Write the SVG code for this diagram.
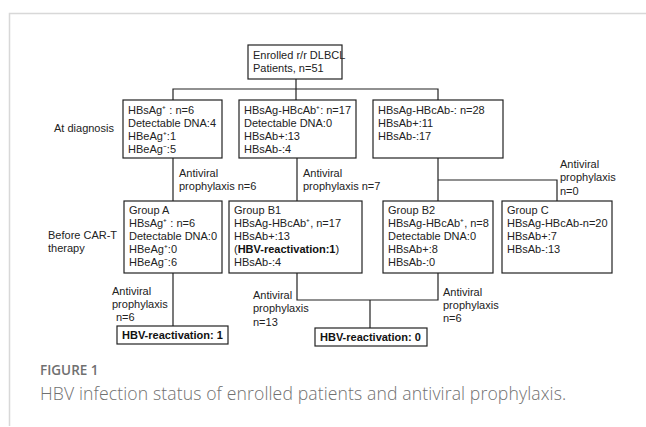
<svg xmlns="http://www.w3.org/2000/svg" width="646" height="427" viewBox="0 0 646 427">
<style>
.bx{fill:#fff;stroke:#222;stroke-width:1.2}
.t{font-family:"Liberation Sans",Arial,sans-serif;font-size:11px;fill:#222}
.b{font-family:"Liberation Sans",Arial,sans-serif;font-size:11px;font-weight:bold;fill:#111}
.ln{fill:none;stroke:#222;stroke-width:1.2}
.cap1{font-family:"Open Sans",sans-serif;font-size:13.5px;font-weight:600;fill:#707070}
.cap2{font-family:"Open Sans",sans-serif;font-size:17.6px;font-weight:300;fill:#707070;letter-spacing:0.12px}
</style>
<rect width="646" height="427" fill="#fff"/>
<path d="M9.5,426 V13.5 H646" fill="none" stroke="#d8d8d8" stroke-width="1.5"/>

<g id="connectors">
<path class="ln" d="M296,79 V100 M173,100 V89 H438 V100"/>
<path class="ln" d="M173,158 V201 M297,158 V201 M438,158 V201 M438,180 H557 V201"/>
<path class="ln" d="M173,273 V326 M297,273 V300 H438 V273 M370,300 V328"/>
</g>

<g id="labels">
<text class="t" x="54" y="132">At diagnosis</text>
<text class="t" x="48" y="239">Before CAR-T</text>
<text class="t" x="48" y="252">therapy</text>
<text class="t" x="179" y="177">Antiviral</text>
<text class="t" x="179" y="190">prophylaxis n=6</text>
<text class="t" x="303" y="177">Antiviral</text>
<text class="t" x="303" y="190">prophylaxis n=7</text>
<text class="t" x="560" y="168">Antiviral</text>
<text class="t" x="560" y="181">prophylaxis</text>
<text class="t" x="560" y="195">n=0</text>
<text class="t" x="112" y="295">Antiviral</text>
<text class="t" x="112" y="308">prophylaxis</text>
<text class="t" x="116" y="321">n=6</text>
<text class="t" x="253" y="299">Antiviral</text>
<text class="t" x="253" y="312">prophylaxis</text>
<text class="t" x="253" y="326">n=13</text>
<text class="t" x="443" y="296">Antiviral</text>
<text class="t" x="443" y="309">prophylaxis</text>
<text class="t" x="443" y="322">n=6</text>
</g>

<g id="enrolled">
<rect class="bx" x="248" y="45" width="94" height="34"/>
<text class="t" x="253" y="59">Enrolled r/r DLBCL</text>
<text class="t" x="253" y="72">Patients, n=51</text>
</g>

<g id="diag-hbsag-pos">
<rect class="bx" x="123" y="100" width="99" height="58"/>
<text class="t" x="128" y="114">HBsAg⁺ : n=6</text>
<text class="t" x="128" y="127">Detectable DNA:4</text>
<text class="t" x="128" y="140">HBeAg⁺:1</text>
<text class="t" x="128" y="153">HBeAg⁻:5</text>
</g>

<g id="diag-hbcab-pos">
<rect class="bx" x="239" y="100" width="117" height="58"/>
<text class="t" x="244" y="114">HBsAg-HBcAb⁺: n=17</text>
<text class="t" x="244" y="127">Detectable DNA:0</text>
<text class="t" x="244" y="140">HBsAb+:13</text>
<text class="t" x="244" y="153">HBsAb-:4</text>
</g>

<g id="diag-hbcab-neg">
<rect class="bx" x="373" y="100" width="130" height="58"/>
<text class="t" x="378" y="114">HBsAg-HBcAb-: n=28</text>
<text class="t" x="378" y="127">HBsAb+:11</text>
<text class="t" x="378" y="140">HBsAb-:17</text>
</g>

<g id="group-a">
<rect class="bx" x="124" y="201" width="98" height="72"/>
<text class="t" x="129" y="214">Group A</text>
<text class="t" x="129" y="227">HBsAg⁺ : n=6</text>
<text class="t" x="129" y="240">Detectable DNA:0</text>
<text class="t" x="129" y="253">HBeAg⁺:0</text>
<text class="t" x="129" y="266">HBeAg⁻:6</text>
</g>

<g id="group-b1">
<rect class="bx" x="229" y="201" width="133" height="72"/>
<text class="t" x="234" y="214">Group B1</text>
<text class="t" x="234" y="227">HBsAg-HBcAb⁺, n=17</text>
<text class="t" x="234" y="240">HBsAb+:13</text>
<text class="t" x="234" y="253">(<tspan class="b">HBV-reactivation:1</tspan>)</text>
<text class="t" x="234" y="266">HBsAb-:4</text>
</g>

<g id="group-b2">
<rect class="bx" x="383" y="201" width="110" height="72"/>
<text class="t" x="388" y="214">Group B2</text>
<text class="t" x="388" y="227">HBsAg-HBcAb⁺, n=8</text>
<text class="t" x="388" y="240">Detectable DNA:0</text>
<text class="t" x="388" y="253">HBsAb+:8</text>
<text class="t" x="388" y="266">HBsAb-:0</text>
</g>

<g id="group-c">
<rect class="bx" x="502" y="201" width="110" height="72"/>
<text class="t" x="507" y="214">Group C</text>
<text class="t" x="507" y="227">HBsAg-HBcAb-n=20</text>
<text class="t" x="507" y="240">HBsAb+:7</text>
<text class="t" x="507" y="253">HBsAb-:13</text>
</g>

<g id="reactivation-1">
<rect class="bx" x="117" y="326" width="111" height="18"/>
<text class="b" x="122" y="339">HBV-reactivation: 1</text>
</g>

<g id="reactivation-0">
<rect class="bx" x="315" y="328" width="112" height="18"/>
<text class="b" x="320" y="341">HBV-reactivation: 0</text>
</g>

<text class="cap1" x="40" y="375">FIGURE 1</text>
<text class="cap2" x="40" y="400">HBV infection status of enrolled patients and antiviral prophylaxis.</text>
</svg>
